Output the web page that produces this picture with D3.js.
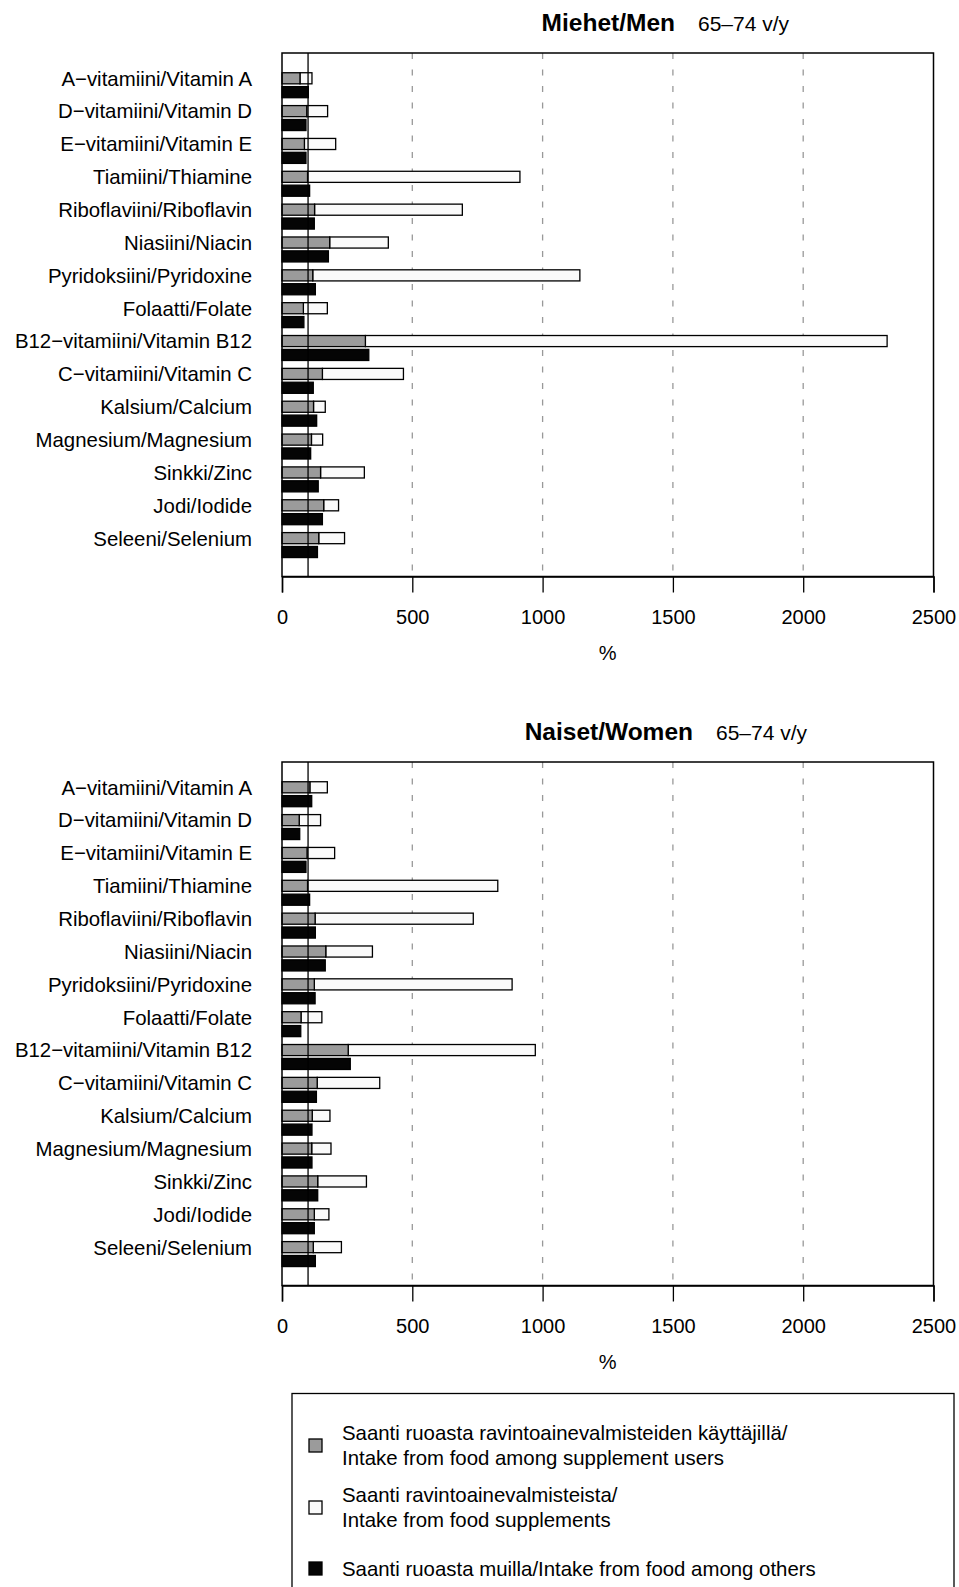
<!DOCTYPE html>
<html>
<head>
<meta charset="utf-8">
<script src="https://cdn.jsdelivr.net/npm/d3@7"></script>
<style>
  body { margin: 0; background: #fff; }
  text { font-family: "Liberation Sans", Arial, sans-serif; fill: #000; }
</style>
</head>
<body>
<div id="chart"></div>
<script>
// ---- DATA ----
const nutrients = [
  "A\u2212vitamiini/Vitamin A", "D\u2212vitamiini/Vitamin D", "E\u2212vitamiini/Vitamin E",
  "Tiamiini/Thiamine", "Riboflaviini/Riboflavin", "Niasiini/Niacin",
  "Pyridoksiini/Pyridoxine", "Folaatti/Folate", "B12\u2212vitamiini/Vitamin B12",
  "C\u2212vitamiini/Vitamin C", "Kalsium/Calcium", "Magnesium/Magnesium",
  "Sinkki/Zinc", "Jodi/Iodide", "Seleeni/Selenium"
];

// men 65-74
const menFood   = [69, 95, 86, 98, 125, 183, 118, 82, 320, 155, 121, 113, 148, 160, 141];
const menSupp   = [46, 80, 120, 815, 567, 225, 1025, 92, 2002, 311, 45, 43, 168, 57, 99];
const menOthers = [101, 92, 92, 106, 124, 178, 128, 84, 333, 120, 133, 110, 139, 155, 136];

// women 65-74
const womenFood   = [107, 66, 96, 98, 127, 168, 124, 73, 254, 135, 116, 114, 137, 124, 120];
const womenSupp   = [67, 82, 106, 730, 607, 179, 759, 80, 718, 240, 68, 74, 187, 56, 108];
const womenOthers = [114, 68, 92, 106, 128, 166, 127, 72, 262, 132, 115, 115, 137, 124, 128];

const xTicks = [0, 500, 1000, 1500, 2000, 2500];
const gridTicks = [500, 1000, 1500, 2000];
const refLine = 100;

const legendLabels = [
  ["Saanti ruoasta ravintoainevalmisteiden käyttäjillä/", "Intake from food among supplement users"],
  ["Saanti ravintoainevalmisteista/", "Intake from food supplements"],
  ["Saanti ruoasta muilla/Intake from food among others"]
];

// ---- SETUP ----
const width = 959;
const height = 1587;
const colGrey = "#9b9b9b", colWhite = "#fafafa", colBlack = "#050505";

const svg = d3.select("#chart").append("svg")
  .attr("width", width)
  .attr("height", height);

const x = d3.scaleLinear().domain([0, 2500]).range([282, 933.5]);

function drawPanel(offsetY, food, supp, others, title, titleEnd) {
  const g = svg.append("g").attr("transform", `translate(0,${offsetY})`);
  const boxTop = 53, boxBottom = 576.5;

  const y = d3.scaleBand()
    .domain(nutrients)
    .range([68.8, 561.5])
    .paddingInner(0.24)
    .paddingOuter(0.12);

  const yInner = d3.scaleBand()
    .domain(["users", "others"])
    .range([0, y.bandwidth()])
    .paddingInner(0.2);

  const rows = nutrients.map((n, i) => ({ name: n, food: food[i], supp: supp[i], others: others[i] }));

  // ---- GRID ----
  g.selectAll("line.grid")
    .data(gridTicks)
    .enter()
    .append("line")
    .attr("class", "grid")
    .attr("x1", d => x(d)).attr("x2", d => x(d))
    .attr("y1", boxTop).attr("y2", boxBottom)
    .attr("stroke", "#999")
    .attr("stroke-width", 1.3)
    .attr("stroke-dasharray", "6,10.5");

  // ---- BARS ----
  const rowG = g.selectAll("g.row")
    .data(rows)
    .enter()
    .append("g")
    .attr("class", "row")
    .attr("transform", d => `translate(0,${y(d.name)})`);

  rowG.append("rect")
    .attr("x", d => x(d.food))
    .attr("y", yInner("users"))
    .attr("width", d => x(d.food + d.supp) - x(d.food))
    .attr("height", yInner.bandwidth())
    .attr("fill", colWhite)
    .attr("stroke", "#000")
    .attr("stroke-width", 1.3);

  rowG.append("rect")
    .attr("x", x(0))
    .attr("y", yInner("users"))
    .attr("width", d => x(d.food) - x(0))
    .attr("height", yInner.bandwidth())
    .attr("fill", colGrey)
    .attr("stroke", "#000")
    .attr("stroke-width", 1.3);

  rowG.append("rect")
    .attr("x", x(0))
    .attr("y", yInner("others"))
    .attr("width", d => x(d.others) - x(0))
    .attr("height", yInner.bandwidth())
    .attr("fill", colBlack)
    .attr("stroke", "#000")
    .attr("stroke-width", 1.3);

  // ---- LABELS ----
  rowG.append("text")
    .attr("x", 252)
    .attr("y", yInner("users") + yInner.bandwidth() / 2)
    .attr("dy", "0.36em")
    .attr("text-anchor", "end")
    .attr("font-size", 20.4)
    .text(d => d.name);

  // ---- 100 % LINE ----
  g.append("line")
    .attr("x1", x(refLine)).attr("x2", x(refLine))
    .attr("y1", boxTop).attr("y2", boxBottom)
    .attr("stroke", "#000")
    .attr("stroke-width", 1.3);

  // ---- BOX ----
  g.append("rect")
    .attr("x", x(0)).attr("y", boxTop)
    .attr("width", x(2500) - x(0))
    .attr("height", boxBottom - boxTop)
    .attr("fill", "none")
    .attr("stroke", "#000")
    .attr("stroke-width", 1.5);

  // ---- AXIS ----
  const axis = g.append("g")
    .attr("transform", `translate(0,${boxBottom})`)
    .call(d3.axisBottom(x).tickValues(xTicks).tickSize(16).tickPadding(17).tickFormat(d3.format("d")));
  axis.select(".domain").attr("stroke-width", 1.5);
  axis.selectAll(".tick line").attr("stroke-width", 1.3);
  axis.selectAll("text")
    .attr("font-size", 20)
    .attr("font-family", "Liberation Sans, Arial, sans-serif");

  g.append("text")
    .attr("x", (x(0) + x(2500)) / 2)
    .attr("y", 660)
    .attr("text-anchor", "middle")
    .attr("font-size", 20)
    .text("%");

  // ---- TITLE ----
  g.append("text")
    .attr("x", titleEnd)
    .attr("y", 31)
    .attr("text-anchor", "end")
    .attr("font-size", 24.5)
    .attr("font-weight", "bold")
    .text(title);

  g.append("text")
    .attr("x", titleEnd + 23)
    .attr("y", 31)
    .attr("font-size", 21)
    .text("65\u201374 v/y");
}

drawPanel(0, menFood, menSupp, menOthers, "Miehet/Men", 675);
drawPanel(709, womenFood, womenSupp, womenOthers, "Naiset/Women", 693);

// ---- LEGEND ----
const legend = svg.append("g");
legend.append("rect")
  .attr("x", 292).attr("y", 1393.5)
  .attr("width", 662).attr("height", 260)
  .attr("fill", "none")
  .attr("stroke", "#000")
  .attr("stroke-width", 1.3);

const legendFills = [colGrey, colWhite, colBlack];
const legendCy = [1445.5, 1507.5, 1568.5];

legend.selectAll("rect.key")
  .data(legendFills)
  .enter()
  .append("rect")
  .attr("class", "key")
  .attr("x", 309)
  .attr("y", (d, i) => legendCy[i] - 6.5)
  .attr("width", 13)
  .attr("height", 13)
  .attr("fill", d => d)
  .attr("stroke", "#000")
  .attr("stroke-width", 1.3);

legend.selectAll("text.key")
  .data(legendLabels)
  .enter()
  .append("text")
  .attr("class", "key")
  .attr("font-size", 20.4)
  .each(function(lines, i) {
    const t = d3.select(this);
    const start = legendCy[i] - (lines.length - 1) * 12.5;
    lines.forEach((line, j) => {
      t.append("tspan")
        .attr("x", 342)
        .attr("y", start + j * 25)
        .attr("dy", "0.36em")
        .text(line);
    });
  });
</script>
</body>
</html>
